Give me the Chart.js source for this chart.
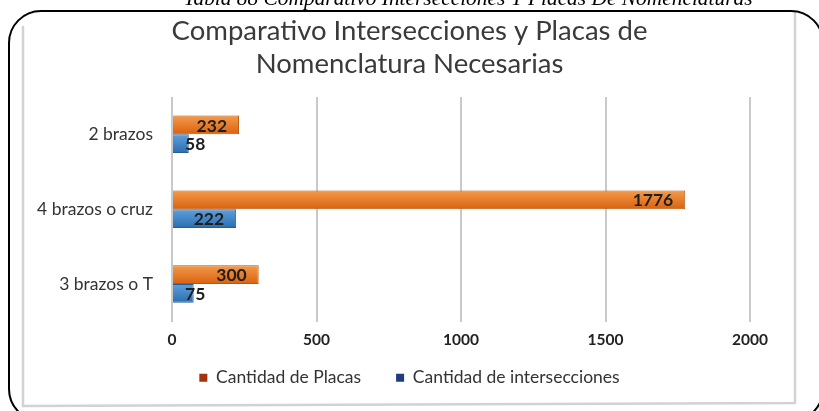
<!DOCTYPE html>
<html>
<head>
<meta charset="utf-8">
<script src="https://cdn.jsdelivr.net/npm/chart.js@4.4.1/dist/chart.umd.min.js"></script>
<style>
  html, body { margin: 0; padding: 0; background: #ffffff; }
  #wrap { width: 819px; height: 411px; position: relative; }
</style>
</head>
<body>
<div id="wrap"><canvas id="chart" width="819" height="411"></canvas></div>
<script>
// Categories (top to bottom) and series values
const categories = ['2 brazos', '4 brazos o cruz', '3 brazos o T'];
const placas = [232, 1776, 300];
const intersecciones = [58, 222, 75];
const seriesNames = ['Cantidad de Placas', 'Cantidad de intersecciones'];
const xTicks = [0, 500, 1000, 1500, 2000];
const titleLines = ['Comparativo Intersecciones y Placas de', 'Nomenclatura Necesarias'];
const caption = 'Tabla 88 Comparativo Intersecciones Y Placas De Nomenclaturas';

const FONT = 'Lato, "Open Sans", sans-serif';

// Gradient stops per series (top -> bottom of each bar)
const gradientStops = [
  ['#f39a4c', '#d9620e'],
  ['#5e9fdb', '#2c6db0']
];

// Replace each bar's flat fill with a vertical gradient once geometry is known
const barGradients = {
  id: 'barGradients',
  beforeDatasetsDraw(chart) {
    const ctx = chart.ctx;
    chart.data.datasets.forEach((ds, di) => {
      const meta = chart.getDatasetMeta(di);
      const stops = gradientStops[di];
      meta.data.forEach(bar => {
        if (!Number.isFinite(bar.y) || !Number.isFinite(bar.height)) return;
        const g = ctx.createLinearGradient(0, bar.y - bar.height / 2, 0, bar.y + bar.height / 2);
        g.addColorStop(0, stops[0]);
        g.addColorStop(1, stops[1]);
        bar.options.backgroundColor = g;
      });
    });
  }
};

// Pull the legend row up closer to the axis labels
const legendLift = {
  id: 'legendLift',
  afterLayout(chart) {
    const lg = chart.legend;
    if (!lg) return;
    lg.top -= 14.5;
    lg.bottom -= 14.5;
  }
};

// Frame around the figure: caption, rounded outline and the inner chart box
const framePlugin = {
  id: 'frame',
  beforeDraw(chart) {
    const ctx = chart.ctx;
    ctx.save();
    ctx.fillStyle = '#000';
    ctx.font = 'italic 21.4px "Liberation Serif", "DejaVu Serif", serif';
    ctx.textAlign = 'center';
    ctx.textBaseline = 'alphabetic';
    ctx.fillText(caption, 468, 5);

    // inner light-grey chart box
    ctx.strokeStyle = '#d2d2d2';
    ctx.lineWidth = 2.5;
    ctx.beginPath();
    ctx.moveTo(23, 26);
    ctx.lineTo(23, 406);
    ctx.lineTo(795, 403);
    ctx.lineTo(795, 12);
    ctx.stroke();

    // rounded black outline
    ctx.strokeStyle = '#000';
    ctx.lineWidth = 2;
    ctx.beginPath();
    ctx.roundRect(9, 11, 814, 410, 32);
    ctx.stroke();
    ctx.restore();
  }
};

// Value labels near the end of each bar
const valueLabels = {
  id: 'valueLabels',
  afterDatasetsDraw(chart) {
    const ctx = chart.ctx;
    ctx.save();
    ctx.font = 'bold 17.5px ' + FONT;
    ctx.fillStyle = '#1e1e1e';
    ctx.textBaseline = 'middle';
    ctx.textAlign = 'left';
    chart.data.datasets.forEach((ds, di) => {
      const meta = chart.getDatasetMeta(di);
      meta.data.forEach((bar, i) => {
        const txt = String(ds.data[i]);
        const w = ctx.measureText(txt).width;
        let x = bar.x - 12 - w;
        if (x < bar.base + 12) x = bar.base + 12;
        ctx.fillText(txt, x, bar.y + 1);
      });
    });
    ctx.restore();
  }
};

new Chart(document.getElementById('chart'), {
  type: 'bar',
  data: {
    labels: categories,
    datasets: [
      {
        label: seriesNames[0],
        data: placas,
        backgroundColor: () => gradientStops[0][1],
        borderColor: '#b9560f',
        borderWidth: 1,
        legendColor: '#a3320f'
      },
      {
        label: seriesNames[1],
        data: intersecciones,
        backgroundColor: () => gradientStops[1][1],
        borderColor: '#285c96',
        borderWidth: 1,
        legendColor: '#1f3d7c'
      }
    ]
  },
  options: {
    indexAxis: 'y',
    responsive: false,
    animation: false,
    devicePixelRatio: 1,
    categoryPercentage: 0.5,
    barPercentage: 1.0,
    layout: { padding: { top: 0, left: 0, right: 0, bottom: 0 } },
    plugins: {
      title: {
        display: true,
        text: titleLines,
        color: '#3a3a3a',
        font: { family: FONT, size: 27.5, weight: 'normal', lineHeight: 1.18 },
        padding: { top: 15, bottom: 17 }
      },
      legend: {
        display: true,
        position: 'bottom',
        labels: {
          color: '#333',
          font: { family: FONT, size: 17.5 },
          boxWidth: 8,
          boxHeight: 8,
          padding: 35,
          generateLabels(chart) {
            return chart.data.datasets.map((ds, i) => ({
              text: ds.label,
              fillStyle: ds.legendColor,
              strokeStyle: ds.legendColor,
              lineWidth: 0,
              fontColor: '#333',
              datasetIndex: i,
              hidden: false
            }));
          }
        }
      },
      tooltip: { enabled: false }
    },
    scales: {
      x: {
        min: 0,
        max: 2000,
        afterBuildTicks(scale) { scale.ticks = xTicks.map(v => ({ value: v })); },
        ticks: {
          color: '#222',
          font: { family: FONT, size: 15.5, weight: 'bold' },
          padding: 9,
          callback: v => String(v)
        },
        grid: { color: '#c9c9c9', lineWidth: 2, drawTicks: false },
        border: { display: false },
        afterFit(scale) { scale.height = 27; }
      },
      y: {
        ticks: {
          color: '#333',
          font: { family: FONT, size: 17.5 },
          padding: 19
        },
        grid: { display: false, drawTicks: false },
        border: { display: false },
        afterFit(scale) { scale.width = 172; }
      },
      pad: {
        type: 'linear',
        position: 'right',
        display: true,
        ticks: { display: false },
        grid: { display: false, drawTicks: false },
        border: { display: false },
        afterFit(scale) { scale.width = 69; }
      }
    }
  },
  plugins: [framePlugin, barGradients, valueLabels, legendLift]
});
</script>
</body>
</html>
